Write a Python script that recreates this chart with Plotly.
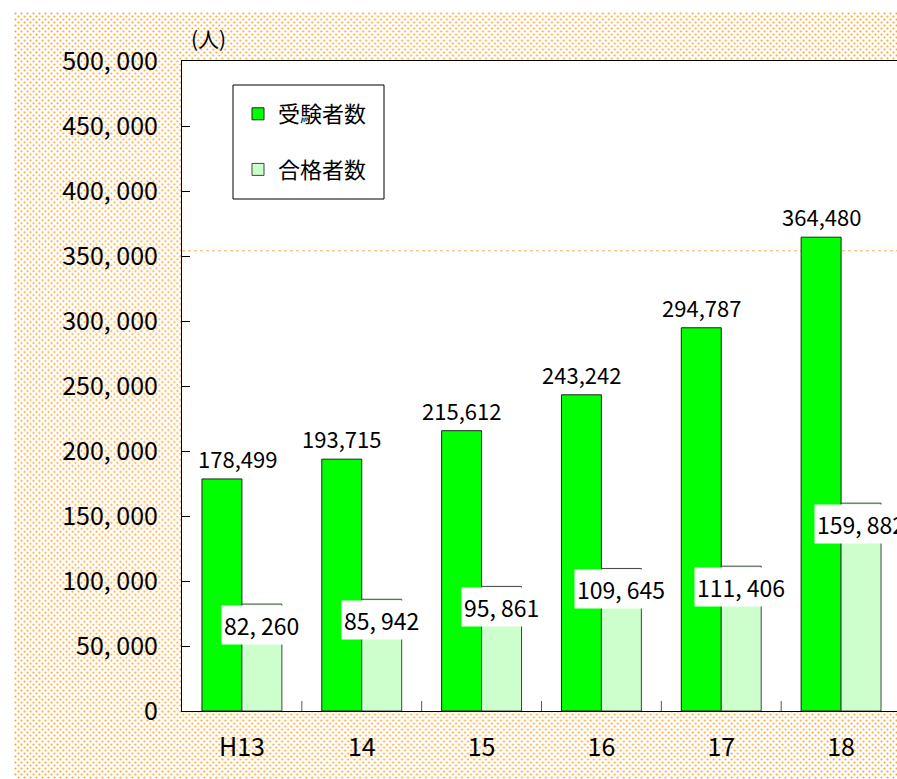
import base64
import plotly.graph_objects as go

categories = ["H13", "14", "15", "16", "17", "18"]
examinees = [178499, 193715, 215612, 243242, 294787, 364480]
passers = [82260, 85942, 95861, 109645, 111406, 159882]
examinee_labels = ["178,499", "193,715", "215,612", "243,242", "294,787", "364,480"]
passer_labels = ["82, 260", "85, 942", "95, 861", "109, 645", "111, 406", "159, 882"]
y_tickvals = [0, 50000, 100000, 150000, 200000, 250000, 300000, 350000, 400000, 450000, 500000]
y_ticktext = ["0", "50, 000", "100, 000", "150, 000", "200, 000", "250, 000", "300, 000",
              "350, 000", "400, 000", "450, 000", "500, 000"]
series_names = ["受験者数", "合格者数"]
unit_label = "(人)"
ref_line_value = 354000

FONT = "Noto Sans CJK JP, Noto Sans, sans-serif"
W, H = 897, 779
L, T, B, R = 182, 61, 68, 0
pw, ph = W - L - R, H - T - B


def px_x(p):
    return (p - L) / pw


def px_y(p):
    return (H - B - p) / ph


svg = (
    '<svg xmlns="http://www.w3.org/2000/svg" width="884" height="768">'
    '<defs><pattern id="p" width="6" height="6" patternUnits="userSpaceOnUse">'
    '<circle cx="1.5" cy="1.5" r="1.05" fill="#fba32a"/>'
    '<circle cx="4.5" cy="4.5" r="1.05" fill="#fba32a"/>'
    '</pattern></defs>'
    '<rect width="884" height="768" fill="white"/>'
    '<rect width="884" height="768" fill="url(#p)"/></svg>'
)
img = "data:image/svg+xml;base64," + base64.b64encode(svg.encode()).decode()

fig = go.Figure()
fig.add_trace(go.Bar(
    x=categories, y=examinees, name=series_names[0], legendgroup="a",
    marker=dict(color="#00ff00", line=dict(color="#222222", width=1)),
))
fig.add_trace(go.Bar(
    x=categories, y=passers, name=series_names[1], legendgroup="b",
    marker=dict(color="#ccffcc", line=dict(color="#444444", width=1)),
))

# labels above the green bars (first one nudged right, as in the original)
green_label_nudge = [16, 0, 0, 0, 0, 0]
for i, (v, t) in enumerate(zip(examinees, examinee_labels)):
    fig.add_annotation(x=i, y=v, xref="x", yref="y", text=t, showarrow=False,
                       xshift=-20 + green_label_nudge[i], yshift=3, yanchor="bottom",
                       font=dict(family=FONT, size=22, color="black"))

for i, (v, t) in enumerate(zip(passers, passer_labels)):
    fig.add_annotation(x=i, y=v, xref="x", yref="y", text=t, showarrow=False,
                       xshift=20, yshift=-21, yanchor="middle", bgcolor="white",
                       borderpad=2, font=dict(family=FONT, size=23, color="black"))

fig.add_annotation(x=px_x(208), y=px_y(38), xref="paper", yref="paper",
                   text=unit_label, showarrow=False, xanchor="center", yanchor="middle",
                   font=dict(family=FONT, size=21, color="black"))

fig.add_layout_image(dict(
    source=img, xref="paper", yref="paper",
    x=px_x(14), y=px_y(12), sizex=(W - 14) / pw, sizey=(H - 12) / ph,
    xanchor="left", yanchor="top", sizing="stretch", layer="below",
))
fig.add_shape(type="rect", xref="paper", yref="paper", x0=0, x1=1, y0=0, y1=1,
              fillcolor="white", line=dict(width=0), layer="below")
fig.add_shape(type="line", xref="paper", yref="y", x0=0, x1=1,
              y0=ref_line_value, y1=ref_line_value,
              line=dict(color="#f5b060", width=1, dash="dot"), layer="below")
# legend frame
fig.add_shape(type="rect", xref="paper", yref="paper",
              x0=px_x(233), x1=px_x(384), y0=px_y(199), y1=px_y(85),
              fillcolor="white", line=dict(color="black", width=1), layer="below")

fig.update_layout(
    width=W, height=H,
    margin=dict(l=L, r=R, t=T, b=B),
    paper_bgcolor="white", plot_bgcolor="white",
    barmode="group", bargap=1/3, bargroupgap=0,
    font=dict(family=FONT, color="black"),
    legend=dict(x=px_x(238), y=px_y(93), xanchor="left", yanchor="top",
                bgcolor="rgba(0,0,0,0)", borderwidth=0,
                font=dict(family=FONT, size=22), traceorder="grouped",
                tracegroupgap=24, itemwidth=30),
    showlegend=True,
)
fig.update_xaxes(
    range=[-0.5, 5.5 - 4 / 120], showline=True, linecolor="black", linewidth=1,
    mirror=True, ticks="", showgrid=False, ticklabelstandoff=14,
    tickfont=dict(family=FONT, size=25, color="black"),
)
fig.update_yaxes(
    range=[0, 500000], tickvals=y_tickvals, ticktext=y_ticktext,
    showline=True, linecolor="black", linewidth=1, ticks="inside", ticklen=8,
    tickcolor="black", showgrid=False, zeroline=False, ticklabelstandoff=18,
    tickfont=dict(family=FONT, size=25, color="black"),
)
for i in range(len(categories) - 1):
    fig.add_shape(type="line", xref="x", yref="paper", x0=i + 0.5, x1=i + 0.5,
                  y0=0, y1=10 / ph, line=dict(color="#555555", width=1))

fig.write_html("out.html", post_script="document.body.style.margin='0';",
               config={"displayModeBar": False})
